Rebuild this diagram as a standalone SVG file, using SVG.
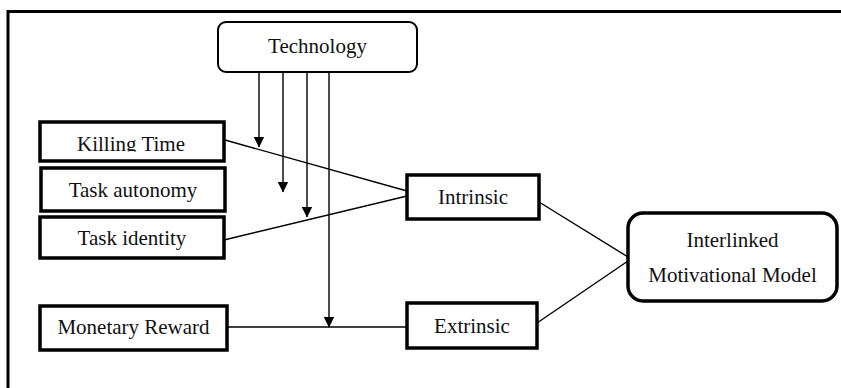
<svg xmlns="http://www.w3.org/2000/svg" width="841" height="388" viewBox="0 0 841 388">
<style>
.box{fill:#fff;stroke:#000;stroke-width:3.5}
.tech{fill:#fff;stroke:#000;stroke-width:2}
.t{font-size:21px;fill:#111;text-anchor:middle}
.c{stroke:#000;stroke-width:1.4;fill:none}
</style>
<defs>
<marker id="ah" markerWidth="11" markerHeight="11" refX="10" refY="5.5" orient="auto" markerUnits="userSpaceOnUse">
<path d="M0,0.3 L10.5,5.5 L0,10.7 Z" fill="#000"/>
</marker>
<clipPath id="kclip"><rect x="40" y="122" width="185" height="29.5"/></clipPath>
</defs>
<rect width="841" height="388" fill="#fff"/>
<path d="M8,400 V11.5 H850" fill="none" stroke="#000" stroke-width="3"/>
<g id="connectors">
<line class="c" x1="259" y1="72" x2="259" y2="147" marker-end="url(#ah)"/>
<line class="c" x1="283" y1="72" x2="283" y2="192" marker-end="url(#ah)"/>
<line class="c" x1="307" y1="72" x2="307" y2="217" marker-end="url(#ah)"/>
<line class="c" x1="329" y1="72" x2="329" y2="327" marker-end="url(#ah)"/>
<line class="c" x1="225" y1="140" x2="407" y2="191"/>
<line class="c" x1="224" y1="240" x2="407" y2="196"/>
<line class="c" x1="227" y1="327" x2="407" y2="327"/>
<line class="c" x1="539" y1="202" x2="628" y2="257"/>
<line class="c" x1="537" y1="323" x2="628" y2="261"/>
</g>
<g font-family="Liberation Serif, Tinos, Times New Roman, DejaVu Serif, serif">
<g id="technology">
<rect class="tech" x="218" y="22" width="199" height="50" rx="8"/>
<text class="t" x="317.5" y="53">Technology</text>
</g>
<g id="killing-time">
<rect class="box" x="40" y="122" width="184" height="39"/>
<text class="t" x="131" y="150.5" clip-path="url(#kclip)">Killing Time</text>
</g>
<g id="task-autonomy">
<rect class="box" x="41" y="168" width="184" height="43"/>
<text class="t" x="133" y="196.5">Task autonomy</text>
</g>
<g id="task-identity">
<rect class="box" x="40" y="217" width="184" height="41"/>
<text class="t" x="132" y="245">Task identity</text>
</g>
<g id="monetary-reward">
<rect class="box" x="40" y="306" width="187" height="44"/>
<text class="t" x="133.5" y="334">Monetary Reward</text>
</g>
<g id="intrinsic">
<rect class="box" x="407" y="175" width="132" height="44"/>
<text class="t" x="473" y="204">Intrinsic</text>
</g>
<g id="extrinsic">
<rect class="box" x="407" y="303" width="130" height="45"/>
<text class="t" x="472" y="332.5">Extrinsic</text>
</g>
<g id="interlinked">
<rect class="box" x="628" y="213" width="209" height="88" rx="15"/>
<text class="t" x="732.5" y="246.5">Interlinked</text>
<text class="t" x="732.5" y="281.5">Motivational Model</text>
</g>
</g>
</svg>
